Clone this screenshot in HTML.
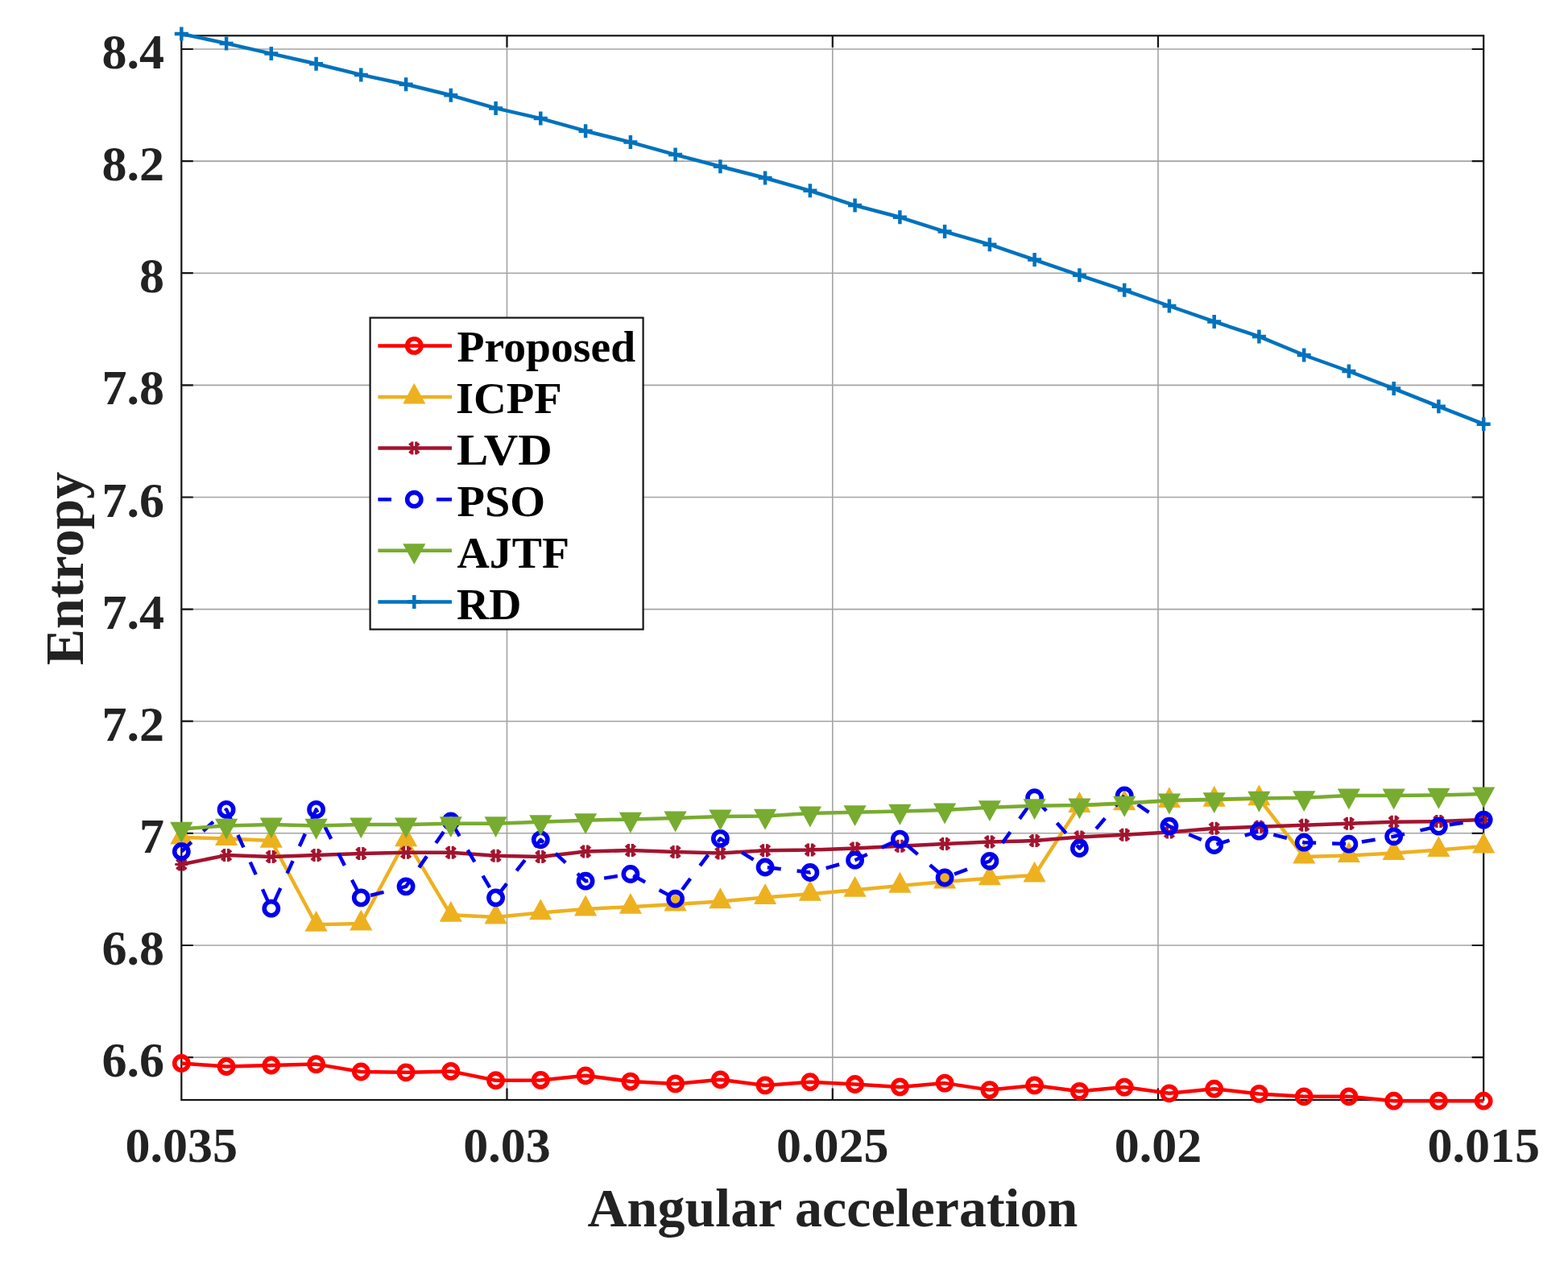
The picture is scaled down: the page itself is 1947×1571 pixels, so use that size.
<!DOCTYPE html>
<html><head><meta charset="utf-8"><style>
html,body{margin:0;padding:0;background:#fff;}
body{width:1947px;height:1571px;overflow:hidden;}
svg{display:block;}
</style></head><body>
<svg width="1947" height="1571" viewBox="0 0 1947 1571">
<rect width="1947" height="1571" fill="#fff"/>
<path d="M629.5 44.3V1366M1033.8 44.3V1366M1438 44.3V1366M225.3 61H1842.2M225.3 200.1H1842.2M225.3 339.2H1842.2M225.3 478.4H1842.2M225.3 617.5H1842.2M225.3 756.6H1842.2M225.3 895.7H1842.2M225.3 1034.8H1842.2M225.3 1174H1842.2M225.3 1313.1H1842.2" stroke="#a4a4a4" stroke-width="1.6" fill="none"/>
<path d="M629.5 1366v-14.5M629.5 44.3v14.5M1033.8 1366v-14.5M1033.8 44.3v14.5M1438 1366v-14.5M1438 44.3v14.5M225.3 61h14.5M1842.2 61h-14.5M225.3 200.1h14.5M1842.2 200.1h-14.5M225.3 339.2h14.5M1842.2 339.2h-14.5M225.3 478.4h14.5M1842.2 478.4h-14.5M225.3 617.5h14.5M1842.2 617.5h-14.5M225.3 756.6h14.5M1842.2 756.6h-14.5M225.3 895.7h14.5M1842.2 895.7h-14.5M225.3 1034.8h14.5M1842.2 1034.8h-14.5M225.3 1174h14.5M1842.2 1174h-14.5M225.3 1313.1h14.5M1842.2 1313.1h-14.5" stroke="#151515" stroke-width="2.2" fill="none"/>
<rect x="225.3" y="44.3" width="1616.9" height="1321.7" fill="none" stroke="#151515" stroke-width="2.2"/>
<polyline points="225.3,1320.5 281.1,1324.5 336.8,1323 392.6,1321.6 448.3,1331 504.1,1331.8 559.8,1330.4 615.6,1341.7 671.3,1341.4 727.1,1335.8 782.9,1343.1 838.6,1345.9 894.4,1340.8 950.1,1347.9 1005.9,1343.7 1061.6,1346.5 1117.4,1349.9 1173.1,1345.1 1228.9,1353.6 1284.6,1347.9 1340.4,1355.3 1396.2,1350.1 1451.9,1357.8 1507.7,1352.2 1563.4,1358.4 1619.2,1361.8 1674.9,1361.8 1730.7,1367.2 1786.4,1367.2 1842.2,1367.2" fill="none" stroke="#ff0000" stroke-width="4.5" stroke-linejoin="round"/>
<g><circle cx="225.3" cy="1320.5" r="8.6" fill="none" stroke="#ff0000" stroke-width="5.6"/><circle cx="281.1" cy="1324.5" r="8.6" fill="none" stroke="#ff0000" stroke-width="5.6"/><circle cx="336.8" cy="1323" r="8.6" fill="none" stroke="#ff0000" stroke-width="5.6"/><circle cx="392.6" cy="1321.6" r="8.6" fill="none" stroke="#ff0000" stroke-width="5.6"/><circle cx="448.3" cy="1331" r="8.6" fill="none" stroke="#ff0000" stroke-width="5.6"/><circle cx="504.1" cy="1331.8" r="8.6" fill="none" stroke="#ff0000" stroke-width="5.6"/><circle cx="559.8" cy="1330.4" r="8.6" fill="none" stroke="#ff0000" stroke-width="5.6"/><circle cx="615.6" cy="1341.7" r="8.6" fill="none" stroke="#ff0000" stroke-width="5.6"/><circle cx="671.3" cy="1341.4" r="8.6" fill="none" stroke="#ff0000" stroke-width="5.6"/><circle cx="727.1" cy="1335.8" r="8.6" fill="none" stroke="#ff0000" stroke-width="5.6"/><circle cx="782.9" cy="1343.1" r="8.6" fill="none" stroke="#ff0000" stroke-width="5.6"/><circle cx="838.6" cy="1345.9" r="8.6" fill="none" stroke="#ff0000" stroke-width="5.6"/><circle cx="894.4" cy="1340.8" r="8.6" fill="none" stroke="#ff0000" stroke-width="5.6"/><circle cx="950.1" cy="1347.9" r="8.6" fill="none" stroke="#ff0000" stroke-width="5.6"/><circle cx="1005.9" cy="1343.7" r="8.6" fill="none" stroke="#ff0000" stroke-width="5.6"/><circle cx="1061.6" cy="1346.5" r="8.6" fill="none" stroke="#ff0000" stroke-width="5.6"/><circle cx="1117.4" cy="1349.9" r="8.6" fill="none" stroke="#ff0000" stroke-width="5.6"/><circle cx="1173.1" cy="1345.1" r="8.6" fill="none" stroke="#ff0000" stroke-width="5.6"/><circle cx="1228.9" cy="1353.6" r="8.6" fill="none" stroke="#ff0000" stroke-width="5.6"/><circle cx="1284.6" cy="1347.9" r="8.6" fill="none" stroke="#ff0000" stroke-width="5.6"/><circle cx="1340.4" cy="1355.3" r="8.6" fill="none" stroke="#ff0000" stroke-width="5.6"/><circle cx="1396.2" cy="1350.1" r="8.6" fill="none" stroke="#ff0000" stroke-width="5.6"/><circle cx="1451.9" cy="1357.8" r="8.6" fill="none" stroke="#ff0000" stroke-width="5.6"/><circle cx="1507.7" cy="1352.2" r="8.6" fill="none" stroke="#ff0000" stroke-width="5.6"/><circle cx="1563.4" cy="1358.4" r="8.6" fill="none" stroke="#ff0000" stroke-width="5.6"/><circle cx="1619.2" cy="1361.8" r="8.6" fill="none" stroke="#ff0000" stroke-width="5.6"/><circle cx="1674.9" cy="1361.8" r="8.6" fill="none" stroke="#ff0000" stroke-width="5.6"/><circle cx="1730.7" cy="1367.2" r="8.6" fill="none" stroke="#ff0000" stroke-width="5.6"/><circle cx="1786.4" cy="1367.2" r="8.6" fill="none" stroke="#ff0000" stroke-width="5.6"/><circle cx="1842.2" cy="1367.2" r="8.6" fill="none" stroke="#ff0000" stroke-width="5.6"/></g>
<polyline points="225.3,1040 281.1,1041.4 336.8,1044.1 392.6,1148.3 448.3,1147 504.1,1042.8 559.8,1136.3 615.6,1138.9 671.3,1133.6 727.1,1128.9 782.9,1126.2 838.6,1122.9 894.4,1119.6 950.1,1114.4 1005.9,1110.3 1061.6,1105.2 1117.4,1100.1 1173.1,1095 1228.9,1090.8 1284.6,1087 1340.4,1000.4 1396.2,997.8 1451.9,994.5 1507.7,993.1 1563.4,991.8 1619.2,1064 1674.9,1062.5 1730.7,1059.5 1786.4,1055.5 1842.2,1051" fill="none" stroke="#edb120" stroke-width="4.5" stroke-linejoin="round"/>
<g><path d="M225.3 1025.3L237.3 1047.3L213.3 1047.3Z" fill="#edb120" stroke="#edb120" stroke-width="2.5" stroke-linejoin="miter"/><path d="M281.1 1026.7L293.1 1048.7L269.1 1048.7Z" fill="#edb120" stroke="#edb120" stroke-width="2.5" stroke-linejoin="miter"/><path d="M336.8 1029.4L348.8 1051.4L324.8 1051.4Z" fill="#edb120" stroke="#edb120" stroke-width="2.5" stroke-linejoin="miter"/><path d="M392.6 1133.6L404.6 1155.6L380.6 1155.6Z" fill="#edb120" stroke="#edb120" stroke-width="2.5" stroke-linejoin="miter"/><path d="M448.3 1132.3L460.3 1154.3L436.3 1154.3Z" fill="#edb120" stroke="#edb120" stroke-width="2.5" stroke-linejoin="miter"/><path d="M504.1 1028.1L516.1 1050.1L492.1 1050.1Z" fill="#edb120" stroke="#edb120" stroke-width="2.5" stroke-linejoin="miter"/><path d="M559.8 1121.6L571.8 1143.6L547.8 1143.6Z" fill="#edb120" stroke="#edb120" stroke-width="2.5" stroke-linejoin="miter"/><path d="M615.6 1124.2L627.6 1146.2L603.6 1146.2Z" fill="#edb120" stroke="#edb120" stroke-width="2.5" stroke-linejoin="miter"/><path d="M671.3 1118.9L683.3 1140.9L659.3 1140.9Z" fill="#edb120" stroke="#edb120" stroke-width="2.5" stroke-linejoin="miter"/><path d="M727.1 1114.2L739.1 1136.2L715.1 1136.2Z" fill="#edb120" stroke="#edb120" stroke-width="2.5" stroke-linejoin="miter"/><path d="M782.9 1111.5L794.9 1133.5L770.9 1133.5Z" fill="#edb120" stroke="#edb120" stroke-width="2.5" stroke-linejoin="miter"/><path d="M838.6 1108.2L850.6 1130.2L826.6 1130.2Z" fill="#edb120" stroke="#edb120" stroke-width="2.5" stroke-linejoin="miter"/><path d="M894.4 1104.9L906.4 1126.9L882.4 1126.9Z" fill="#edb120" stroke="#edb120" stroke-width="2.5" stroke-linejoin="miter"/><path d="M950.1 1099.7L962.1 1121.7L938.1 1121.7Z" fill="#edb120" stroke="#edb120" stroke-width="2.5" stroke-linejoin="miter"/><path d="M1005.9 1095.6L1017.9 1117.6L993.9 1117.6Z" fill="#edb120" stroke="#edb120" stroke-width="2.5" stroke-linejoin="miter"/><path d="M1061.6 1090.5L1073.6 1112.5L1049.6 1112.5Z" fill="#edb120" stroke="#edb120" stroke-width="2.5" stroke-linejoin="miter"/><path d="M1117.4 1085.4L1129.4 1107.4L1105.4 1107.4Z" fill="#edb120" stroke="#edb120" stroke-width="2.5" stroke-linejoin="miter"/><path d="M1173.1 1080.3L1185.1 1102.3L1161.1 1102.3Z" fill="#edb120" stroke="#edb120" stroke-width="2.5" stroke-linejoin="miter"/><path d="M1228.9 1076.1L1240.9 1098.1L1216.9 1098.1Z" fill="#edb120" stroke="#edb120" stroke-width="2.5" stroke-linejoin="miter"/><path d="M1284.6 1072.3L1296.6 1094.3L1272.6 1094.3Z" fill="#edb120" stroke="#edb120" stroke-width="2.5" stroke-linejoin="miter"/><path d="M1340.4 985.7L1352.4 1007.7L1328.4 1007.7Z" fill="#edb120" stroke="#edb120" stroke-width="2.5" stroke-linejoin="miter"/><path d="M1396.2 983.1L1408.2 1005.1L1384.2 1005.1Z" fill="#edb120" stroke="#edb120" stroke-width="2.5" stroke-linejoin="miter"/><path d="M1451.9 979.8L1463.9 1001.8L1439.9 1001.8Z" fill="#edb120" stroke="#edb120" stroke-width="2.5" stroke-linejoin="miter"/><path d="M1507.7 978.4L1519.7 1000.4L1495.7 1000.4Z" fill="#edb120" stroke="#edb120" stroke-width="2.5" stroke-linejoin="miter"/><path d="M1563.4 977.1L1575.4 999.1L1551.4 999.1Z" fill="#edb120" stroke="#edb120" stroke-width="2.5" stroke-linejoin="miter"/><path d="M1619.2 1049.3L1631.2 1071.3L1607.2 1071.3Z" fill="#edb120" stroke="#edb120" stroke-width="2.5" stroke-linejoin="miter"/><path d="M1674.9 1047.8L1686.9 1069.8L1662.9 1069.8Z" fill="#edb120" stroke="#edb120" stroke-width="2.5" stroke-linejoin="miter"/><path d="M1730.7 1044.8L1742.7 1066.8L1718.7 1066.8Z" fill="#edb120" stroke="#edb120" stroke-width="2.5" stroke-linejoin="miter"/><path d="M1786.4 1040.8L1798.4 1062.8L1774.4 1062.8Z" fill="#edb120" stroke="#edb120" stroke-width="2.5" stroke-linejoin="miter"/><path d="M1842.2 1036.3L1854.2 1058.3L1830.2 1058.3Z" fill="#edb120" stroke="#edb120" stroke-width="2.5" stroke-linejoin="miter"/></g>
<polyline points="225.3,1073.5 281.1,1062.1 336.8,1064.1 392.6,1062.1 448.3,1060.1 504.1,1058.8 559.8,1058.8 615.6,1062.8 671.3,1064.1 727.1,1057.5 782.9,1056.1 838.6,1058.1 894.4,1059.5 950.1,1056.2 1005.9,1055.5 1061.6,1053.5 1117.4,1050.8 1173.1,1048.1 1228.9,1045.5 1284.6,1044.1 1340.4,1039.5 1396.2,1036.8 1451.9,1033.6 1507.7,1028.8 1563.4,1026.8 1619.2,1024.8 1674.9,1022.8 1730.7,1020.8 1786.4,1020.1 1842.2,1018.1" fill="none" stroke="#a2142f" stroke-width="4.5" stroke-linejoin="round"/>
<g><path d="M217.3 1073.5H233.3M222.8 1065.5V1081.5M227.8 1065.5V1081.5M219.3 1067.5L231.3 1079.5M219.3 1079.5L231.3 1067.5" stroke="#a2142f" stroke-width="3.2"/><path d="M273.1 1062.1H289.1M278.6 1054.1V1070.1M283.6 1054.1V1070.1M275.1 1056.1L287.1 1068.1M275.1 1068.1L287.1 1056.1" stroke="#a2142f" stroke-width="3.2"/><path d="M328.8 1064.1H344.8M334.3 1056.1V1072.1M339.3 1056.1V1072.1M330.8 1058.1L342.8 1070.1M330.8 1070.1L342.8 1058.1" stroke="#a2142f" stroke-width="3.2"/><path d="M384.6 1062.1H400.6M390.1 1054.1V1070.1M395.1 1054.1V1070.1M386.6 1056.1L398.6 1068.1M386.6 1068.1L398.6 1056.1" stroke="#a2142f" stroke-width="3.2"/><path d="M440.3 1060.1H456.3M445.8 1052.1V1068.1M450.8 1052.1V1068.1M442.3 1054.1L454.3 1066.1M442.3 1066.1L454.3 1054.1" stroke="#a2142f" stroke-width="3.2"/><path d="M496.1 1058.8H512.1M501.6 1050.8V1066.8M506.6 1050.8V1066.8M498.1 1052.8L510.1 1064.8M498.1 1064.8L510.1 1052.8" stroke="#a2142f" stroke-width="3.2"/><path d="M551.8 1058.8H567.8M557.3 1050.8V1066.8M562.3 1050.8V1066.8M553.8 1052.8L565.8 1064.8M553.8 1064.8L565.8 1052.8" stroke="#a2142f" stroke-width="3.2"/><path d="M607.6 1062.8H623.6M613.1 1054.8V1070.8M618.1 1054.8V1070.8M609.6 1056.8L621.6 1068.8M609.6 1068.8L621.6 1056.8" stroke="#a2142f" stroke-width="3.2"/><path d="M663.3 1064.1H679.3M668.8 1056.1V1072.1M673.8 1056.1V1072.1M665.3 1058.1L677.3 1070.1M665.3 1070.1L677.3 1058.1" stroke="#a2142f" stroke-width="3.2"/><path d="M719.1 1057.5H735.1M724.6 1049.5V1065.5M729.6 1049.5V1065.5M721.1 1051.5L733.1 1063.5M721.1 1063.5L733.1 1051.5" stroke="#a2142f" stroke-width="3.2"/><path d="M774.9 1056.1H790.9M780.4 1048.1V1064.1M785.4 1048.1V1064.1M776.9 1050.1L788.9 1062.1M776.9 1062.1L788.9 1050.1" stroke="#a2142f" stroke-width="3.2"/><path d="M830.6 1058.1H846.6M836.1 1050.1V1066.1M841.1 1050.1V1066.1M832.6 1052.1L844.6 1064.1M832.6 1064.1L844.6 1052.1" stroke="#a2142f" stroke-width="3.2"/><path d="M886.4 1059.5H902.4M891.9 1051.5V1067.5M896.9 1051.5V1067.5M888.4 1053.5L900.4 1065.5M888.4 1065.5L900.4 1053.5" stroke="#a2142f" stroke-width="3.2"/><path d="M942.1 1056.2H958.1M947.6 1048.2V1064.2M952.6 1048.2V1064.2M944.1 1050.2L956.1 1062.2M944.1 1062.2L956.1 1050.2" stroke="#a2142f" stroke-width="3.2"/><path d="M997.9 1055.5H1013.9M1003.4 1047.5V1063.5M1008.4 1047.5V1063.5M999.9 1049.5L1011.9 1061.5M999.9 1061.5L1011.9 1049.5" stroke="#a2142f" stroke-width="3.2"/><path d="M1053.6 1053.5H1069.6M1059.1 1045.5V1061.5M1064.1 1045.5V1061.5M1055.6 1047.5L1067.6 1059.5M1055.6 1059.5L1067.6 1047.5" stroke="#a2142f" stroke-width="3.2"/><path d="M1109.4 1050.8H1125.4M1114.9 1042.8V1058.8M1119.9 1042.8V1058.8M1111.4 1044.8L1123.4 1056.8M1111.4 1056.8L1123.4 1044.8" stroke="#a2142f" stroke-width="3.2"/><path d="M1165.1 1048.1H1181.1M1170.6 1040.1V1056.1M1175.6 1040.1V1056.1M1167.1 1042.1L1179.1 1054.1M1167.1 1054.1L1179.1 1042.1" stroke="#a2142f" stroke-width="3.2"/><path d="M1220.9 1045.5H1236.9M1226.4 1037.5V1053.5M1231.4 1037.5V1053.5M1222.9 1039.5L1234.9 1051.5M1222.9 1051.5L1234.9 1039.5" stroke="#a2142f" stroke-width="3.2"/><path d="M1276.6 1044.1H1292.6M1282.1 1036.1V1052.1M1287.1 1036.1V1052.1M1278.6 1038.1L1290.6 1050.1M1278.6 1050.1L1290.6 1038.1" stroke="#a2142f" stroke-width="3.2"/><path d="M1332.4 1039.5H1348.4M1337.9 1031.5V1047.5M1342.9 1031.5V1047.5M1334.4 1033.5L1346.4 1045.5M1334.4 1045.5L1346.4 1033.5" stroke="#a2142f" stroke-width="3.2"/><path d="M1388.2 1036.8H1404.2M1393.7 1028.8V1044.8M1398.7 1028.8V1044.8M1390.2 1030.8L1402.2 1042.8M1390.2 1042.8L1402.2 1030.8" stroke="#a2142f" stroke-width="3.2"/><path d="M1443.9 1033.6H1459.9M1449.4 1025.6V1041.6M1454.4 1025.6V1041.6M1445.9 1027.6L1457.9 1039.6M1445.9 1039.6L1457.9 1027.6" stroke="#a2142f" stroke-width="3.2"/><path d="M1499.7 1028.8H1515.7M1505.2 1020.8V1036.8M1510.2 1020.8V1036.8M1501.7 1022.8L1513.7 1034.8M1501.7 1034.8L1513.7 1022.8" stroke="#a2142f" stroke-width="3.2"/><path d="M1555.4 1026.8H1571.4M1560.9 1018.8V1034.8M1565.9 1018.8V1034.8M1557.4 1020.8L1569.4 1032.8M1557.4 1032.8L1569.4 1020.8" stroke="#a2142f" stroke-width="3.2"/><path d="M1611.2 1024.8H1627.2M1616.7 1016.8V1032.8M1621.7 1016.8V1032.8M1613.2 1018.8L1625.2 1030.8M1613.2 1030.8L1625.2 1018.8" stroke="#a2142f" stroke-width="3.2"/><path d="M1666.9 1022.8H1682.9M1672.4 1014.8V1030.8M1677.4 1014.8V1030.8M1668.9 1016.8L1680.9 1028.8M1668.9 1028.8L1680.9 1016.8" stroke="#a2142f" stroke-width="3.2"/><path d="M1722.7 1020.8H1738.7M1728.2 1012.8V1028.8M1733.2 1012.8V1028.8M1724.7 1014.8L1736.7 1026.8M1724.7 1026.8L1736.7 1014.8" stroke="#a2142f" stroke-width="3.2"/><path d="M1778.4 1020.1H1794.4M1783.9 1012.1V1028.1M1788.9 1012.1V1028.1M1780.4 1014.1L1792.4 1026.1M1780.4 1026.1L1792.4 1014.1" stroke="#a2142f" stroke-width="3.2"/><path d="M1834.2 1018.1H1850.2M1839.7 1010.1V1026.1M1844.7 1010.1V1026.1M1836.2 1012.1L1848.2 1024.1M1836.2 1024.1L1848.2 1012.1" stroke="#a2142f" stroke-width="3.2"/></g>
<polyline points="225.3,1057.5 281.1,1005.4 336.8,1128.2 392.6,1005.4 448.3,1114.9 504.1,1100.9 559.8,1020 615.6,1114.9 671.3,1042.8 727.1,1094.2 782.9,1085.5 838.6,1116.2 894.4,1041.4 950.1,1077 1005.9,1083.5 1061.6,1068.2 1117.4,1042.1 1173.1,1090 1228.9,1069.3 1284.6,990.7 1340.4,1053.5 1396.2,988 1451.9,1026.1 1507.7,1049.5 1563.4,1032.1 1619.2,1046.2 1674.9,1048.2 1730.7,1038.8 1786.4,1026.1 1842.2,1018.1" fill="none" stroke="#0000ee" stroke-width="4.5" stroke-linejoin="round" stroke-dasharray="17 20"/>
<g><circle cx="225.3" cy="1057.5" r="8.6" fill="none" stroke="#0000ee" stroke-width="5.6"/><circle cx="281.1" cy="1005.4" r="8.6" fill="none" stroke="#0000ee" stroke-width="5.6"/><circle cx="336.8" cy="1128.2" r="8.6" fill="none" stroke="#0000ee" stroke-width="5.6"/><circle cx="392.6" cy="1005.4" r="8.6" fill="none" stroke="#0000ee" stroke-width="5.6"/><circle cx="448.3" cy="1114.9" r="8.6" fill="none" stroke="#0000ee" stroke-width="5.6"/><circle cx="504.1" cy="1100.9" r="8.6" fill="none" stroke="#0000ee" stroke-width="5.6"/><circle cx="559.8" cy="1020" r="8.6" fill="none" stroke="#0000ee" stroke-width="5.6"/><circle cx="615.6" cy="1114.9" r="8.6" fill="none" stroke="#0000ee" stroke-width="5.6"/><circle cx="671.3" cy="1042.8" r="8.6" fill="none" stroke="#0000ee" stroke-width="5.6"/><circle cx="727.1" cy="1094.2" r="8.6" fill="none" stroke="#0000ee" stroke-width="5.6"/><circle cx="782.9" cy="1085.5" r="8.6" fill="none" stroke="#0000ee" stroke-width="5.6"/><circle cx="838.6" cy="1116.2" r="8.6" fill="none" stroke="#0000ee" stroke-width="5.6"/><circle cx="894.4" cy="1041.4" r="8.6" fill="none" stroke="#0000ee" stroke-width="5.6"/><circle cx="950.1" cy="1077" r="8.6" fill="none" stroke="#0000ee" stroke-width="5.6"/><circle cx="1005.9" cy="1083.5" r="8.6" fill="none" stroke="#0000ee" stroke-width="5.6"/><circle cx="1061.6" cy="1068.2" r="8.6" fill="none" stroke="#0000ee" stroke-width="5.6"/><circle cx="1117.4" cy="1042.1" r="8.6" fill="none" stroke="#0000ee" stroke-width="5.6"/><circle cx="1173.1" cy="1090" r="8.6" fill="none" stroke="#0000ee" stroke-width="5.6"/><circle cx="1228.9" cy="1069.3" r="8.6" fill="none" stroke="#0000ee" stroke-width="5.6"/><circle cx="1284.6" cy="990.7" r="8.6" fill="none" stroke="#0000ee" stroke-width="5.6"/><circle cx="1340.4" cy="1053.5" r="8.6" fill="none" stroke="#0000ee" stroke-width="5.6"/><circle cx="1396.2" cy="988" r="8.6" fill="none" stroke="#0000ee" stroke-width="5.6"/><circle cx="1451.9" cy="1026.1" r="8.6" fill="none" stroke="#0000ee" stroke-width="5.6"/><circle cx="1507.7" cy="1049.5" r="8.6" fill="none" stroke="#0000ee" stroke-width="5.6"/><circle cx="1563.4" cy="1032.1" r="8.6" fill="none" stroke="#0000ee" stroke-width="5.6"/><circle cx="1619.2" cy="1046.2" r="8.6" fill="none" stroke="#0000ee" stroke-width="5.6"/><circle cx="1674.9" cy="1048.2" r="8.6" fill="none" stroke="#0000ee" stroke-width="5.6"/><circle cx="1730.7" cy="1038.8" r="8.6" fill="none" stroke="#0000ee" stroke-width="5.6"/><circle cx="1786.4" cy="1026.1" r="8.6" fill="none" stroke="#0000ee" stroke-width="5.6"/><circle cx="1842.2" cy="1018.1" r="8.6" fill="none" stroke="#0000ee" stroke-width="5.6"/></g>
<polyline points="225.3,1029.4 281.1,1025.4 336.8,1024 392.6,1025.4 448.3,1024 504.1,1024 559.8,1022.7 615.6,1022.7 671.3,1020.7 727.1,1018.7 782.9,1017.4 838.6,1016.1 894.4,1014.1 950.1,1013.4 1005.9,1010.1 1061.6,1008.7 1117.4,1007.4 1173.1,1006.1 1228.9,1002.7 1284.6,1000.7 1340.4,1000 1396.2,997.4 1451.9,994.1 1507.7,992.7 1563.4,991.4 1619.2,990.7 1674.9,988.1 1730.7,988.1 1786.4,987.4 1842.2,986.1" fill="none" stroke="#77ac30" stroke-width="4.5" stroke-linejoin="round"/>
<g><path d="M225.3 1044.1L237.3 1022.1L213.3 1022.1Z" fill="#77ac30" stroke="#77ac30" stroke-width="2.5" stroke-linejoin="miter"/><path d="M281.1 1040.1L293.1 1018.1L269.1 1018.1Z" fill="#77ac30" stroke="#77ac30" stroke-width="2.5" stroke-linejoin="miter"/><path d="M336.8 1038.7L348.8 1016.7L324.8 1016.7Z" fill="#77ac30" stroke="#77ac30" stroke-width="2.5" stroke-linejoin="miter"/><path d="M392.6 1040.1L404.6 1018.1L380.6 1018.1Z" fill="#77ac30" stroke="#77ac30" stroke-width="2.5" stroke-linejoin="miter"/><path d="M448.3 1038.7L460.3 1016.7L436.3 1016.7Z" fill="#77ac30" stroke="#77ac30" stroke-width="2.5" stroke-linejoin="miter"/><path d="M504.1 1038.7L516.1 1016.7L492.1 1016.7Z" fill="#77ac30" stroke="#77ac30" stroke-width="2.5" stroke-linejoin="miter"/><path d="M559.8 1037.4L571.8 1015.4L547.8 1015.4Z" fill="#77ac30" stroke="#77ac30" stroke-width="2.5" stroke-linejoin="miter"/><path d="M615.6 1037.4L627.6 1015.4L603.6 1015.4Z" fill="#77ac30" stroke="#77ac30" stroke-width="2.5" stroke-linejoin="miter"/><path d="M671.3 1035.4L683.3 1013.4L659.3 1013.4Z" fill="#77ac30" stroke="#77ac30" stroke-width="2.5" stroke-linejoin="miter"/><path d="M727.1 1033.4L739.1 1011.4L715.1 1011.4Z" fill="#77ac30" stroke="#77ac30" stroke-width="2.5" stroke-linejoin="miter"/><path d="M782.9 1032.1L794.9 1010.1L770.9 1010.1Z" fill="#77ac30" stroke="#77ac30" stroke-width="2.5" stroke-linejoin="miter"/><path d="M838.6 1030.8L850.6 1008.8L826.6 1008.8Z" fill="#77ac30" stroke="#77ac30" stroke-width="2.5" stroke-linejoin="miter"/><path d="M894.4 1028.8L906.4 1006.8L882.4 1006.8Z" fill="#77ac30" stroke="#77ac30" stroke-width="2.5" stroke-linejoin="miter"/><path d="M950.1 1028.1L962.1 1006.1L938.1 1006.1Z" fill="#77ac30" stroke="#77ac30" stroke-width="2.5" stroke-linejoin="miter"/><path d="M1005.9 1024.8L1017.9 1002.8L993.9 1002.8Z" fill="#77ac30" stroke="#77ac30" stroke-width="2.5" stroke-linejoin="miter"/><path d="M1061.6 1023.4L1073.6 1001.4L1049.6 1001.4Z" fill="#77ac30" stroke="#77ac30" stroke-width="2.5" stroke-linejoin="miter"/><path d="M1117.4 1022.1L1129.4 1000.1L1105.4 1000.1Z" fill="#77ac30" stroke="#77ac30" stroke-width="2.5" stroke-linejoin="miter"/><path d="M1173.1 1020.8L1185.1 998.8L1161.1 998.8Z" fill="#77ac30" stroke="#77ac30" stroke-width="2.5" stroke-linejoin="miter"/><path d="M1228.9 1017.4L1240.9 995.4L1216.9 995.4Z" fill="#77ac30" stroke="#77ac30" stroke-width="2.5" stroke-linejoin="miter"/><path d="M1284.6 1015.4L1296.6 993.4L1272.6 993.4Z" fill="#77ac30" stroke="#77ac30" stroke-width="2.5" stroke-linejoin="miter"/><path d="M1340.4 1014.7L1352.4 992.7L1328.4 992.7Z" fill="#77ac30" stroke="#77ac30" stroke-width="2.5" stroke-linejoin="miter"/><path d="M1396.2 1012.1L1408.2 990.1L1384.2 990.1Z" fill="#77ac30" stroke="#77ac30" stroke-width="2.5" stroke-linejoin="miter"/><path d="M1451.9 1008.8L1463.9 986.8L1439.9 986.8Z" fill="#77ac30" stroke="#77ac30" stroke-width="2.5" stroke-linejoin="miter"/><path d="M1507.7 1007.4L1519.7 985.4L1495.7 985.4Z" fill="#77ac30" stroke="#77ac30" stroke-width="2.5" stroke-linejoin="miter"/><path d="M1563.4 1006.1L1575.4 984.1L1551.4 984.1Z" fill="#77ac30" stroke="#77ac30" stroke-width="2.5" stroke-linejoin="miter"/><path d="M1619.2 1005.4L1631.2 983.4L1607.2 983.4Z" fill="#77ac30" stroke="#77ac30" stroke-width="2.5" stroke-linejoin="miter"/><path d="M1674.9 1002.8L1686.9 980.8L1662.9 980.8Z" fill="#77ac30" stroke="#77ac30" stroke-width="2.5" stroke-linejoin="miter"/><path d="M1730.7 1002.8L1742.7 980.8L1718.7 980.8Z" fill="#77ac30" stroke="#77ac30" stroke-width="2.5" stroke-linejoin="miter"/><path d="M1786.4 1002.1L1798.4 980.1L1774.4 980.1Z" fill="#77ac30" stroke="#77ac30" stroke-width="2.5" stroke-linejoin="miter"/><path d="M1842.2 1000.8L1854.2 978.8L1830.2 978.8Z" fill="#77ac30" stroke="#77ac30" stroke-width="2.5" stroke-linejoin="miter"/></g>
<polyline points="225.3,42 281.1,53.9 336.8,66.6 392.6,79.3 448.3,92.9 504.1,104.7 559.8,118.3 615.6,134.4 671.3,147.1 727.1,162.7 782.9,176.6 838.6,192.1 894.4,206.8 950.1,221 1005.9,236.8 1061.6,255.1 1117.4,269.8 1173.1,287.6 1228.9,303.7 1284.6,322.6 1340.4,341.8 1396.2,360.3 1451.9,380 1507.7,399.4 1563.4,417.9 1619.2,441 1674.9,461 1730.7,482.6 1786.4,504.8 1842.2,526.7" fill="none" stroke="#0072bd" stroke-width="4.5" stroke-linejoin="round"/>
<g><path d="M216.8 42H233.8M225.3 33.5V50.5" stroke="#0072bd" stroke-width="4.5"/><path d="M272.6 53.9H289.6M281.1 45.4V62.4" stroke="#0072bd" stroke-width="4.5"/><path d="M328.3 66.6H345.3M336.8 58.1V75.1" stroke="#0072bd" stroke-width="4.5"/><path d="M384.1 79.3H401.1M392.6 70.8V87.8" stroke="#0072bd" stroke-width="4.5"/><path d="M439.8 92.9H456.8M448.3 84.4V101.4" stroke="#0072bd" stroke-width="4.5"/><path d="M495.6 104.7H512.6M504.1 96.2V113.2" stroke="#0072bd" stroke-width="4.5"/><path d="M551.3 118.3H568.3M559.8 109.8V126.8" stroke="#0072bd" stroke-width="4.5"/><path d="M607.1 134.4H624.1M615.6 125.9V142.9" stroke="#0072bd" stroke-width="4.5"/><path d="M662.8 147.1H679.8M671.3 138.6V155.6" stroke="#0072bd" stroke-width="4.5"/><path d="M718.6 162.7H735.6M727.1 154.2V171.2" stroke="#0072bd" stroke-width="4.5"/><path d="M774.4 176.6H791.4M782.9 168.1V185.1" stroke="#0072bd" stroke-width="4.5"/><path d="M830.1 192.1H847.1M838.6 183.6V200.6" stroke="#0072bd" stroke-width="4.5"/><path d="M885.9 206.8H902.9M894.4 198.3V215.3" stroke="#0072bd" stroke-width="4.5"/><path d="M941.6 221H958.6M950.1 212.5V229.5" stroke="#0072bd" stroke-width="4.5"/><path d="M997.4 236.8H1014.4M1005.9 228.3V245.3" stroke="#0072bd" stroke-width="4.5"/><path d="M1053.1 255.1H1070.1M1061.6 246.6V263.6" stroke="#0072bd" stroke-width="4.5"/><path d="M1108.9 269.8H1125.9M1117.4 261.3V278.3" stroke="#0072bd" stroke-width="4.5"/><path d="M1164.6 287.6H1181.6M1173.1 279.1V296.1" stroke="#0072bd" stroke-width="4.5"/><path d="M1220.4 303.7H1237.4M1228.9 295.2V312.2" stroke="#0072bd" stroke-width="4.5"/><path d="M1276.1 322.6H1293.1M1284.6 314.1V331.1" stroke="#0072bd" stroke-width="4.5"/><path d="M1331.9 341.8H1348.9M1340.4 333.3V350.3" stroke="#0072bd" stroke-width="4.5"/><path d="M1387.7 360.3H1404.7M1396.2 351.8V368.8" stroke="#0072bd" stroke-width="4.5"/><path d="M1443.4 380H1460.4M1451.9 371.5V388.5" stroke="#0072bd" stroke-width="4.5"/><path d="M1499.2 399.4H1516.2M1507.7 390.9V407.9" stroke="#0072bd" stroke-width="4.5"/><path d="M1554.9 417.9H1571.9M1563.4 409.4V426.4" stroke="#0072bd" stroke-width="4.5"/><path d="M1610.7 441H1627.7M1619.2 432.5V449.5" stroke="#0072bd" stroke-width="4.5"/><path d="M1666.4 461H1683.4M1674.9 452.5V469.5" stroke="#0072bd" stroke-width="4.5"/><path d="M1722.2 482.6H1739.2M1730.7 474.1V491.1" stroke="#0072bd" stroke-width="4.5"/><path d="M1777.9 504.8H1794.9M1786.4 496.3V513.3" stroke="#0072bd" stroke-width="4.5"/><path d="M1833.7 526.7H1850.7M1842.2 518.2V535.2" stroke="#0072bd" stroke-width="4.5"/></g>
<g font-family="Liberation Serif, serif" font-weight="bold" font-size="62" fill="#222"><text x="204" y="85" text-anchor="end">8.4</text><text x="204" y="224.1" text-anchor="end">8.2</text><text x="204" y="363.2" text-anchor="end">8</text><text x="204" y="502.4" text-anchor="end">7.8</text><text x="204" y="641.5" text-anchor="end">7.6</text><text x="204" y="780.6" text-anchor="end">7.4</text><text x="204" y="919.7" text-anchor="end">7.2</text><text x="204" y="1058.8" text-anchor="end">7</text><text x="204" y="1198" text-anchor="end">6.8</text><text x="204" y="1337.1" text-anchor="end">6.6</text><text x="225.3" y="1442.8" text-anchor="middle">0.035</text><text x="629.5" y="1442.8" text-anchor="middle">0.03</text><text x="1033.8" y="1442.8" text-anchor="middle">0.025</text><text x="1438" y="1442.8" text-anchor="middle">0.02</text><text x="1842.2" y="1442.8" text-anchor="middle">0.015</text></g>
<text x="1033.9" y="1523" text-anchor="middle" font-family="Liberation Serif, serif" font-weight="bold" font-size="68" fill="#222">Angular acceleration</text>
<text transform="translate(103 706) rotate(-90)" x="0" y="0" text-anchor="middle" font-family="Liberation Serif, serif" font-weight="bold" font-size="68" fill="#222">Entropy</text>
<rect x="459.6" y="394.6" width="339" height="387" fill="#fff" stroke="#151515" stroke-width="2.2"/>
<path d="M469.4 429.4H561" stroke="#ff0000" stroke-width="4.5"/>
<circle cx="514.3" cy="429.4" r="8.6" fill="none" stroke="#ff0000" stroke-width="5.6"/>
<text x="567.6" y="448.7" textLength="221.49" lengthAdjust="spacingAndGlyphs" font-family="Liberation Serif, serif" font-weight="bold" font-size="54" fill="#000">Proposed</text>
<path d="M469.4 493H561" stroke="#edb120" stroke-width="4.5"/>
<path d="M514.3 478.3L526.3 500.3L502.3 500.3Z" fill="#edb120" stroke="#edb120" stroke-width="2.5" stroke-linejoin="miter"/>
<text x="565.9" y="512.7" textLength="132.02" lengthAdjust="spacingAndGlyphs" font-family="Liberation Serif, serif" font-weight="bold" font-size="54" fill="#000">ICPF</text>
<path d="M469.4 556.6H561" stroke="#a2142f" stroke-width="4.5"/>
<path d="M506.3 556.6H522.3M511.8 548.6V564.6M516.8 548.6V564.6M508.3 550.6L520.3 562.6M508.3 562.6L520.3 550.6" stroke="#a2142f" stroke-width="3.2"/>
<text x="566.9" y="576.7" textLength="118.83" lengthAdjust="spacingAndGlyphs" font-family="Liberation Serif, serif" font-weight="bold" font-size="54" fill="#000">LVD</text>
<path d="M469.4 620.2H486M542 620.2H561" stroke="#0000ee" stroke-width="4.5"/>
<circle cx="514.3" cy="620.2" r="8.6" fill="none" stroke="#0000ee" stroke-width="5.6"/>
<text x="567.6" y="640.7" textLength="109.61" lengthAdjust="spacingAndGlyphs" font-family="Liberation Serif, serif" font-weight="bold" font-size="54" fill="#000">PSO</text>
<path d="M469.4 683.8H561" stroke="#77ac30" stroke-width="4.5"/>
<path d="M514.3 698.5L526.3 676.5L502.3 676.5Z" fill="#77ac30" stroke="#77ac30" stroke-width="2.5" stroke-linejoin="miter"/>
<text x="567.6" y="704.7" textLength="139.33" lengthAdjust="spacingAndGlyphs" font-family="Liberation Serif, serif" font-weight="bold" font-size="54" fill="#000">AJTF</text>
<path d="M469.4 747.4H561" stroke="#0072bd" stroke-width="4.5"/>
<path d="M505.8 747.4H522.8M514.3 738.9V755.9" stroke="#0072bd" stroke-width="4.5"/>
<text x="567" y="768.7" textLength="80.32" lengthAdjust="spacingAndGlyphs" font-family="Liberation Serif, serif" font-weight="bold" font-size="54" fill="#000">RD</text>
</svg>
</body></html>
